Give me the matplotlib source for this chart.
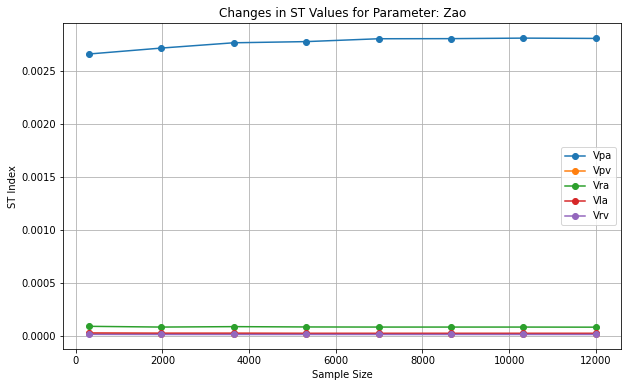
import matplotlib
matplotlib.use('Agg')
import matplotlib.pyplot as plt

# Sample sizes along the x axis
sample_sizes = [300, 1971, 3643, 5314, 6986, 8657, 10329, 12000]

# Total-order (ST) indices per output
vpa = [0.002662, 0.002718, 0.002768, 0.002779, 0.002806, 0.002807, 0.002812, 0.002809]
vpv = [0.000028, 0.000027, 0.000027, 0.000026, 0.000026, 0.000026, 0.000026, 0.000026]
vra = [0.000095, 0.000088, 0.000092, 0.000089, 0.000088, 0.000088, 0.000088, 0.000087]
vla = [0.000032, 0.000030, 0.000030, 0.000029, 0.000029, 0.000029, 0.000029, 0.000029]
vrv = [0.000019, 0.000018, 0.000018, 0.000018, 0.000018, 0.000018, 0.000018, 0.000018]

series = {'Vpa': vpa, 'Vpv': vpv, 'Vra': vra, 'Vla': vla, 'Vrv': vrv}

fig, ax = plt.subplots(figsize=(628 / 72, 387 / 72), dpi=72)
fig.subplots_adjust(left=0.1008, right=0.9893, top=0.9398, bottom=0.0974)

for name, vals in series.items():
    ax.plot(sample_sizes, vals, marker='o', label=name)

ax.set_title('Changes in ST Values for Parameter: Zao')
ax.set_xlabel('Sample Size')
ax.set_ylabel('ST Index')
ax.legend(loc='center right')
ax.grid(True)

fig.savefig('out.png', dpi=72)
